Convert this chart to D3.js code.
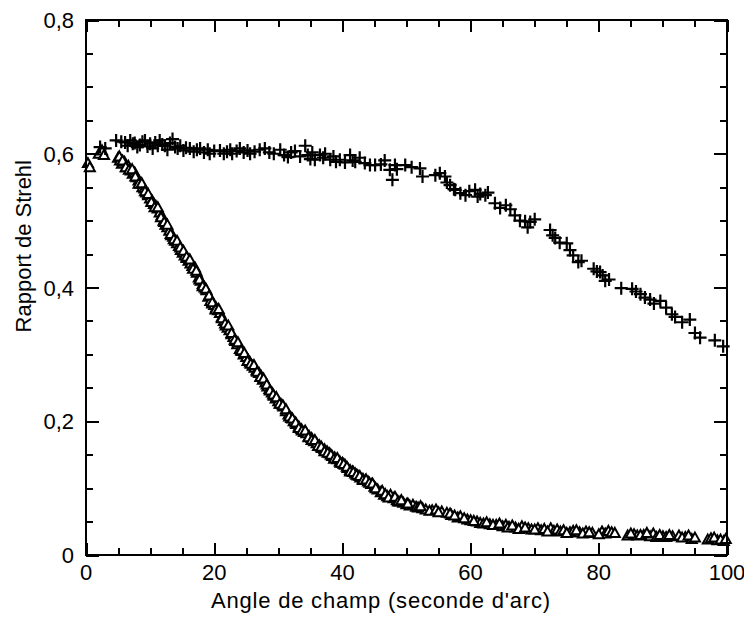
<!DOCTYPE html>
<html><head><meta charset="utf-8">
<script src="https://cdn.jsdelivr.net/npm/d3@7"></script>
<style>body{margin:0;background:#fff}svg{display:block}text{font-family:"Liberation Sans",Arial,sans-serif;fill:#000}</style>
</head><body><svg id="c" width="744" height="617"></svg>
<script>
const xTicks = [0,20,40,60,80,100];
const xTickLabels = ["0","20","40","60","80","100"];
const yTicks = [0,0.2,0.4,0.6,0.8];
const yTickLabels = ["0","0,2","0,4","0,6","0,8"];
const xTitle = "Angle de champ (seconde d'arc)";
const yTitle = "Rapport de Strehl";

// Series 1: crosses (+)
const crossX = [2.2,3.0,4.7,5.5,6.1,6.5,6.9,7.3,7.6,8.0,8.4,8.8,9.2,9.6,10.0,10.4,10.8,11.2,11.5,11.9,12.3,12.7,13.1,13.5,13.9,14.3,14.7,15.2,15.6,16.2,16.8,17.3,17.8,18.4,19.0,19.3,20.0,20.9,21.5,22.0,22.5,22.8,23.5,24.0,24.6,25.2,25.6,26.3,27.1,27.9,28.6,29.3,30.3,30.9,31.5,32.0,32.6,33.4,34.2,34.6,35.0,35.3,35.7,36.5,37.0,37.3,38.1,38.6,39.0,39.6,40.4,41.2,41.6,42.0,42.7,43.5,44.3,45.1,46.0,46.6,47.4,47.8,48.2,48.5,49.8,50.8,52.1,52.5,54.5,55.2,56.0,56.3,56.8,57.4,57.6,58.4,59.2,59.8,60.7,61.1,61.5,62.3,62.7,63.8,64.6,65.5,66.2,66.9,67.7,68.5,68.9,69.3,70.0,72.4,72.8,73.2,73.9,75.0,75.5,76.0,76.8,77.3,79.2,79.7,80.2,80.6,81.0,81.6,83.5,85.2,85.8,86.5,87.2,88.0,88.6,89.6,90.5,91.4,91.9,93.0,94.2,95.0,95.8,98.1,99.4];
const crossY = [0.610,0.608,0.620,0.618,0.617,0.612,0.620,0.615,0.616,0.610,0.613,0.618,0.620,0.611,0.615,0.608,0.617,0.612,0.620,0.614,0.612,0.606,0.616,0.622,0.610,0.608,0.612,0.605,0.609,0.608,0.603,0.606,0.608,0.602,0.606,0.600,0.604,0.605,0.600,0.603,0.606,0.600,0.604,0.608,0.602,0.605,0.600,0.603,0.606,0.608,0.602,0.600,0.606,0.598,0.595,0.602,0.604,0.596,0.612,0.598,0.592,0.602,0.591,0.598,0.594,0.600,0.591,0.596,0.588,0.591,0.587,0.598,0.590,0.588,0.594,0.586,0.583,0.583,0.584,0.590,0.576,0.561,0.583,0.577,0.583,0.580,0.578,0.566,0.568,0.571,0.566,0.557,0.553,0.547,0.546,0.541,0.538,0.544,0.546,0.536,0.540,0.538,0.542,0.526,0.519,0.523,0.517,0.508,0.500,0.499,0.490,0.498,0.502,0.486,0.478,0.474,0.467,0.466,0.456,0.448,0.438,0.440,0.428,0.424,0.423,0.418,0.410,0.412,0.399,0.398,0.394,0.390,0.385,0.382,0.376,0.380,0.370,0.360,0.356,0.348,0.352,0.332,0.325,0.321,0.312];

// Series 2: open triangles
const triX = [0.3,0.6,2.0,2.5,2.8,5.0,5.3,5.6,6.0,6.3,6.6,7.0,7.3,7.6,7.9,8.2,8.5,8.8,9.1,9.4,9.7,10.0,10.3,10.6,10.9,11.2,11.5,11.8,12.1,12.4,12.7,13.0,13.3,13.6,13.9,14.2,14.5,14.8,15.1,15.4,15.7,16.0,16.3,16.6,17.0,17.3,17.6,17.9,18.2,18.5,18.8,19.1,19.4,19.7,20.0,20.3,20.6,20.9,21.2,21.5,21.8,22.1,22.4,22.7,23.0,23.3,23.6,24.0,24.3,24.6,25.0,25.3,25.6,26.0,26.3,26.6,27.0,27.3,27.6,28.0,28.3,28.6,29.0,29.3,29.6,30.0,30.4,30.8,31.2,31.6,32.0,32.4,32.8,33.2,33.6,34.0,34.4,34.8,35.2,35.6,36.0,36.4,36.8,37.2,37.6,38.0,38.4,38.8,39.2,39.6,40.0,40.4,40.8,41.2,41.6,42.0,42.4,42.8,43.2,43.6,44.0,44.5,45.0,45.5,46.0,46.5,47.0,47.5,48.0,48.5,49.0,49.5,50.0,50.5,51.0,51.5,52.5,53.0,54.0,55.5,56.3,57.0,58.0,58.4,59.5,60.0,61.0,61.5,62.0,63.0,64.0,65.0,65.5,66.0,67.0,68.0,69.0,69.5,70.5,71.0,72.5,73.0,73.5,74.0,75.5,76.0,77.0,78.0,79.0,80.5,81.0,81.5,82.0,84.5,85.5,86.0,87.0,88.0,88.5,89.0,90.0,91.5,92.5,93.5,94.5,97.0,97.5,98.5,99.5,
5.2,5.7,6.2,6.7,7.2,7.7,8.2,8.7,9.2,9.7,10.2,10.7,11.2,11.7,12.2,12.7,13.2,13.7,14.2,14.7,15.2,15.7,16.2,16.7,17.2,17.7,18.2,18.7,19.2,19.7,20.2,20.7,21.2,21.7,22.2,22.7,23.2,23.7,24.2,24.7,25.2,25.7,26.2,26.7,27.2,27.7,28.2,28.7,29.2,29.7,30.2,30.7,31.2,31.7,32.2,32.7,33.2,33.7,34.2,34.7,35.2,35.7,36.2,36.7,37.2,37.7,38.2,38.7,39.2,39.7,40.2,40.7,41.2,41.7,42.2,42.7,43.2,43.7,44.2,44.7,45.2,46.2,46.7,47.2,48.2,48.7,49.2,
50.2,51.8,52.2,53.6,54.6,55.0,56.8,57.5,59.0,60.5,62.5,63.5,64.5,65.8,66.5,67.5,68.5,70.0,71.5,72.0,74.5,75.0,76.5,77.5,78.5,80.0,82.5,85.0,86.5,87.5,89.5,90.5,91.0,93.0,94.0,95.0,98.0,99.0,99.8];
const triY = [0.586,0.580,0.600,0.605,0.598,0.594,0.590,0.585,0.588,0.580,0.582,0.575,0.570,0.572,0.565,0.560,0.555,0.550,0.548,0.542,0.538,0.533,0.530,0.525,0.522,0.518,0.512,0.508,0.500,0.494,0.490,0.485,0.478,0.476,0.470,0.466,0.462,0.456,0.452,0.448,0.444,0.440,0.436,0.432,0.430,0.422,0.415,0.410,0.405,0.400,0.396,0.386,0.380,0.376,0.374,0.370,0.366,0.362,0.356,0.350,0.343,0.340,0.336,0.330,0.326,0.320,0.315,0.308,0.305,0.300,0.296,0.292,0.288,0.283,0.280,0.276,0.272,0.268,0.262,0.258,0.252,0.248,0.243,0.238,0.234,0.230,0.226,0.222,0.215,0.210,0.205,0.200,0.196,0.192,0.188,0.184,0.182,0.178,0.175,0.170,0.167,0.164,0.160,0.158,0.155,0.152,0.148,0.146,0.143,0.140,0.138,0.135,0.130,0.127,0.125,0.122,0.119,0.116,0.114,0.112,0.110,0.106,0.102,0.098,0.094,0.090,0.088,0.090,0.085,0.082,0.080,0.078,0.076,0.074,0.075,0.072,0.070,0.068,0.067,0.065,0.063,0.060,0.056,0.058,0.053,0.052,0.050,0.048,0.047,0.046,0.045,0.043,0.045,0.042,0.041,0.043,0.040,0.038,0.040,0.037,0.040,0.036,0.038,0.035,0.034,0.036,0.034,0.035,0.033,0.035,0.032,0.036,0.034,0.029,0.031,0.029,0.030,0.028,0.032,0.027,0.028,0.028,0.029,0.027,0.024,0.023,0.025,0.022,0.021,
0.596,0.590,0.580,0.576,0.577,0.566,0.555,0.556,0.544,0.540,0.528,0.520,0.520,0.505,0.498,0.494,0.480,0.472,0.470,0.460,0.455,0.446,0.442,0.428,0.425,0.412,0.402,0.398,0.388,0.378,0.367,0.368,0.354,0.346,0.343,0.332,0.322,0.318,0.306,0.302,0.290,0.286,0.284,0.274,0.266,0.264,0.255,0.246,0.240,0.236,0.226,0.224,0.218,0.207,0.204,0.198,0.190,0.186,0.186,0.176,0.172,0.172,0.163,0.162,0.155,0.153,0.150,0.144,0.145,0.138,0.136,0.132,0.125,0.124,0.120,0.118,0.112,0.113,0.108,0.107,0.100,0.096,0.091,0.086,0.087,0.080,0.082,
0.077,0.071,0.073,0.066,0.068,0.064,0.062,0.059,0.055,0.051,0.049,0.045,0.047,0.041,0.044,0.039,0.041,0.038,0.039,0.035,0.037,0.033,0.037,0.032,0.034,0.031,0.033,0.032,0.030,0.033,0.030,0.027,0.030,0.026,0.029,0.026,0.026,0.023,0.024];

const svg = d3.select("#c");
const L = 86, R = 727, T = 20, B = 555;
const x = d3.scaleLinear().domain([0,100]).range([L,R]);
const y = d3.scaleLinear().domain([0,0.8]).range([B,T]);

// data marks
const triPath = "M0,-5L5,4L-5,4Z";
const gT = svg.append("g");
triX.forEach((v,i)=>{
  gT.append("path").attr("d",triPath)
    .attr("transform",`translate(${x(v)},${y(triY[i])})`)
    .attr("fill","#fff").attr("stroke","#000").attr("stroke-width",2);
});
const gC = svg.append("g");
crossX.forEach((v,i)=>{
  gC.append("path").attr("d","M-6.5,0H6.5M0,-6.5V6.5")
    .attr("transform",`translate(${x(v)},${y(crossY[i])})`)
    .attr("fill","none").attr("stroke","#000").attr("stroke-width",2.2);
});

// axes
const ax = svg.append("g").attr("shape-rendering","crispEdges");
const xMinor = d3.range(0,101,5);
const yMinor = d3.range(0,0.8001,0.05);
ax.append("g").attr("transform",`translate(0,${B})`)
  .call(d3.axisTop(x).tickValues(xMinor).tickSize(7).tickFormat(""));
ax.append("g").attr("transform",`translate(0,${B})`)
  .call(d3.axisTop(x).tickValues(xTicks).tickSize(12).tickFormat(""));
ax.append("g").attr("transform",`translate(0,${T})`)
  .call(d3.axisBottom(x).tickValues(xMinor).tickSize(7).tickFormat(""));
ax.append("g").attr("transform",`translate(0,${T})`)
  .call(d3.axisBottom(x).tickValues(xTicks).tickSize(12).tickFormat(""));
ax.append("g").attr("transform",`translate(${L},0)`)
  .call(d3.axisRight(y).tickValues(yMinor).tickSize(7).tickFormat(""));
ax.append("g").attr("transform",`translate(${L},0)`)
  .call(d3.axisRight(y).tickValues(yTicks).tickSize(13).tickFormat(""));
ax.append("g").attr("transform",`translate(${R},0)`)
  .call(d3.axisLeft(y).tickValues(yMinor).tickSize(7).tickFormat(""));
ax.append("g").attr("transform",`translate(${R},0)`)
  .call(d3.axisLeft(y).tickValues(yTicks).tickSize(13).tickFormat(""));
ax.selectAll(".domain").remove();
ax.selectAll(".tick line").attr("stroke","#000").attr("stroke-width",2);
ax.append("rect").attr("x",L).attr("y",T).attr("width",R-L).attr("height",B-T)
  .attr("fill","none").attr("stroke","#000").attr("stroke-width",2);

// labels
svg.append("g").selectAll("text").data(xTicks).join("text")
  .attr("x",d=>x(d)).attr("y",580).attr("text-anchor","middle")
  .attr("font-size",22).text((d,i)=>xTickLabels[i]);
svg.append("g").selectAll("text").data(yTicks).join("text")
  .attr("x",74).attr("y",d=>y(d)+8).attr("text-anchor","end")
  .attr("font-size",22).text((d,i)=>yTickLabels[i]);
svg.append("text").attr("x",211).attr("y",608).attr("text-anchor","start")
  .attr("font-size",22).attr("textLength",339).text(xTitle);
svg.append("text").attr("transform","translate(31,160) rotate(-90)")
  .attr("text-anchor","end").attr("font-size",22).text(yTitle);
</script></body></html>
